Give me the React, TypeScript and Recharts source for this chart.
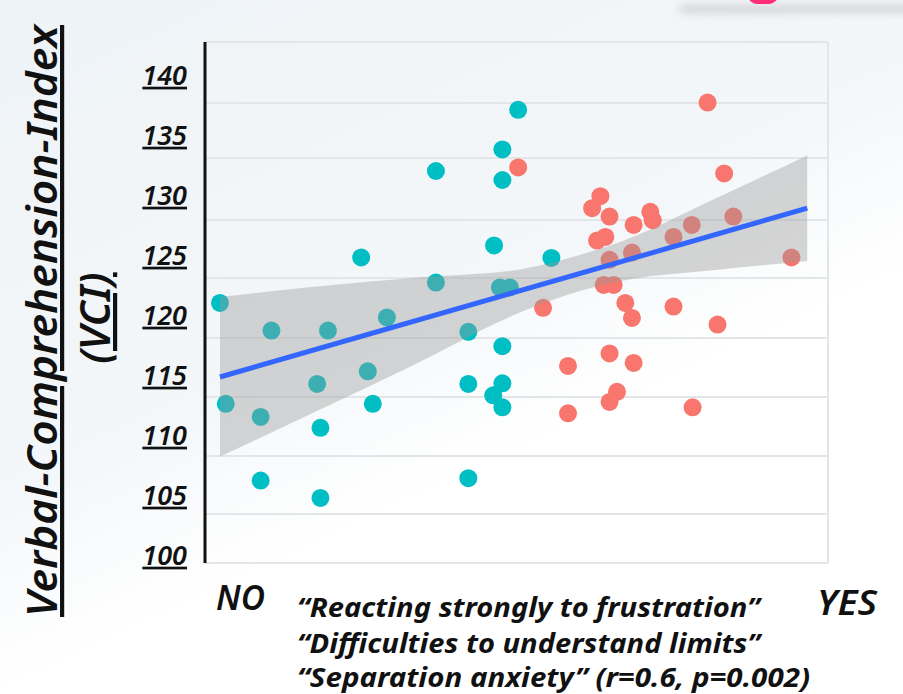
import { Area, CartesianGrid, ComposedChart, Line, Scatter, XAxis, YAxis } from "recharts";

// symptom score (x) and VCI (y) per child
const noScore = [0.18, 0.25, 0.67, 0.67, 0.8, 1.35, 1.39, 1.39, 1.48, 1.88, 1.96, 2.02, 2.19, 2.78, 2.78, 3.17, 3.17, 3.17, 3.48, 3.58, 3.58, 3.77, 3.55, 3.67, 3.58, 3.58, 3.47, 3.58, 4.17];
const noVCI = [121.0, 112.6, 111.5, 106.2, 118.7, 114.25, 110.6, 104.75, 118.7, 124.8, 115.3, 112.6, 119.8, 132.0, 122.7, 118.6, 114.25, 106.4, 125.8, 133.8, 131.25, 137.1, 122.3, 122.3, 117.4, 114.3, 113.3, 112.3, 124.75];
const yesScore = [3.77, 4.07, 4.37, 4.37, 4.76, 4.66, 4.87, 4.72, 4.82, 4.87, 4.8, 4.92, 4.87, 5.16, 4.96, 4.87, 5.06, 5.14, 5.16, 5.36, 5.39, 5.64, 5.86, 5.64, 6.17, 5.87, 6.05, 6.25, 6.36, 7.06, 5.14];
const yesVCI = [132.3, 120.6, 115.75, 111.8, 129.9, 128.9, 128.2, 126.2, 126.5, 124.6, 122.5, 122.5, 116.8, 116.0, 113.6, 112.75, 121.0, 119.75, 127.5, 128.6, 127.9, 126.5, 127.5, 120.7, 119.2, 112.3, 137.7, 131.8, 128.2, 124.8, 125.2];

// fitted line ends and confidence band
const fitX = [0.18, 7.25];
const fitY = [114.83, 128.9];
const bandX = [0.18, 1.38, 2.53, 3.79, 4.51, 5.06, 6.08, 7.25];
const bandLow = [108.2, 112.1, 115.9, 120.2, 122.0, 122.9, 123.7, 124.5];
const bandHigh = [121.5, 122.4, 123.1, 123.8, 125.0, 126.25, 129.5, 133.3];

const yTicks = [100, 105, 110, 115, 120, 125, 130, 135, 140];
const xGrid = [1, 2, 3, 4, 5, 6, 7];
const yGrid = [103.42, 108.25, 113.17, 118.08, 123.08, 127.92, 133.08, 137.67, 142.75];

const noPts = noScore.map((x, i) => ({ x, y: noVCI[i] }));
const yesPts = yesScore.map((x, i) => ({ x, y: yesVCI[i] }));
const fitData = fitX.map((x, i) => ({ x, fit: fitY[i] }));
const bandData = bandX.map((x, i) => ({ x, band: [bandLow[i], bandHigh[i]] }));

const font = "'Noto Sans', 'Open Sans', sans-serif";
const txt = { fontFamily: font, fontStyle: "italic", fontWeight: 600 } as const;

const dot = (color: string) => (p: any) => <circle cx={p.cx} cy={p.cy} r={9} fill={color} />;

const YTick = ({ x, y, payload }: any) => (
  <text x={x} y={y} dy="0.36em" textAnchor="end" fontSize={27} fill="#111" style={{ ...txt, textDecoration: "underline" }}>
    {payload.value}
  </text>
);

export default function App() {
  return (
    <div style={{ position: "absolute", left: 0, top: 0, width: 903, height: 694, overflow: "hidden", background: "linear-gradient(155deg, #eef3f7 0%, #f4f7f9 45%, #ffffff 62%)" }}>
      <div style={{ position: "absolute", left: 680, top: 6, width: 240, height: 6, borderRadius: 3, background: "#c9c9c9", filter: "blur(4px)" }} />
      <div style={{ position: "absolute", left: 748, top: -14, width: 30, height: 18, borderRadius: 12, background: "#ff2d78" }} />
      <ComposedChart width={903} height={694} margin={{ top: 42, right: 75, bottom: 131, left: 125 }}>
        <CartesianGrid yAxisId="grid" stroke="#e3e6e8" strokeWidth={2} />
        <XAxis dataKey="x" type="number" domain={[0, 7.5]} ticks={xGrid} tick={false} tickLine={false} height={0} allowDataOverflow axisLine={{ stroke: "#111", strokeWidth: 3 }} />
        <YAxis dataKey="y" type="number" domain={[99.33, 142.75]} ticks={yTicks} width={80} tickSize={0} tickMargin={18} tickLine={false} tick={<YTick />} allowDataOverflow axisLine={{ stroke: "#111", strokeWidth: 3 }} />
        <YAxis yAxisId="grid" type="number" domain={[99.33, 142.75]} ticks={yGrid} hide allowDataOverflow />
        <Scatter data={noPts} dataKey="y" fill="#00BFC4" shape={dot("#00BFC4")} isAnimationActive={false} zIndex={300} />
        <Scatter data={yesPts} dataKey="y" fill="#F8766D" shape={dot("#F8766D")} isAnimationActive={false} zIndex={300} />
        <Area data={bandData} dataKey="band" type="monotone" fill="#999999" fillOpacity={0.4} stroke="none" isAnimationActive={false} zIndex={700} />
        <Line data={fitData} dataKey="fit" type="linear" stroke="#3366FF" strokeWidth={5} dot={false} activeDot={false} isAnimationActive={false} zIndex={800} />
      </ComposedChart>
      <svg width={903} height={694} style={{ position: "absolute", left: 0, top: 0, pointerEvents: "none" }}>
        <g style={txt} fill="#111">
          <text transform="translate(57, 321) rotate(-90)" textAnchor="middle" fontSize={42} textLength={592} lengthAdjust="spacingAndGlyphs" style={{ textDecoration: "underline" }}>
            Verbal-Comprehension-Index
          </text>
          <text transform="translate(110, 318) rotate(-90)" textAnchor="middle" fontSize={42} style={{ textDecoration: "underline" }}>
            (VCI)
          </text>
          <text x={216} y={610} fontSize={34} textLength={49} lengthAdjust="spacingAndGlyphs">NO</text>
          <text x={817} y={615} fontSize={35} textLength={60} lengthAdjust="spacingAndGlyphs">YES</text>
          <g style={{ fontWeight: 700 }}>
            <text x={297} y={617} fontSize={26} textLength={463} lengthAdjust="spacingAndGlyphs">“Reacting strongly to frustration”</text>
            <text x={297} y={653} fontSize={26} textLength={463} lengthAdjust="spacingAndGlyphs">“Difficulties to understand limits”</text>
            <text x={297} y={687} fontSize={26} textLength={513} lengthAdjust="spacingAndGlyphs">“Separation anxiety” (r=0.6, p=0.002)</text>
          </g>
        </g>
      </svg>
    </div>
  );
}
